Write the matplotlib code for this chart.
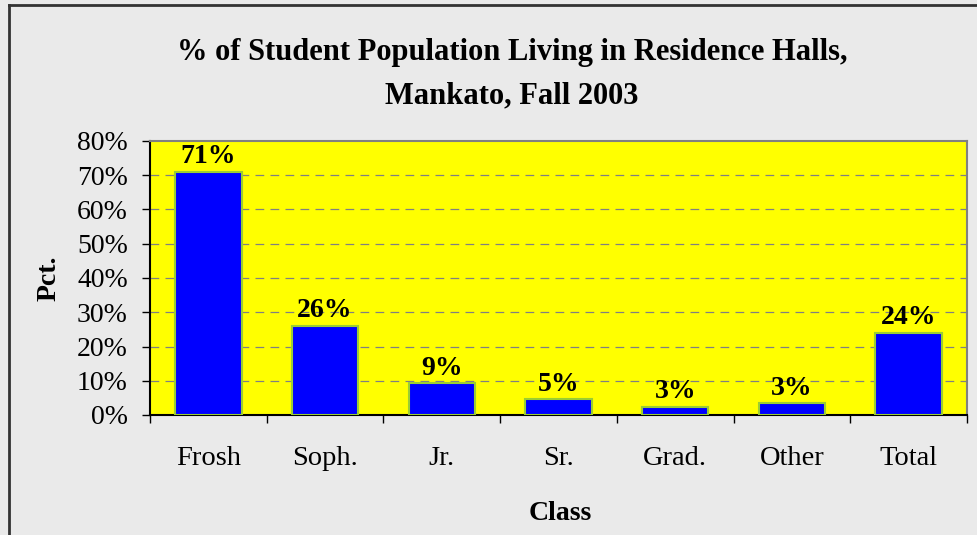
import numpy as np
import matplotlib
matplotlib.use("Agg")
from matplotlib import pyplot as plt
from matplotlib.lines import Line2D

classes = ["Frosh", "Soph.", "Jr.", "Sr.", "Grad.", "Other", "Total"]
pct_values = [71, 26, 9.2, 4.6, 2.3, 3.4, 24]
pct_labels = ["71%", "26%", "9%", "5%", "3%", "3%", "24%"]
y_ticks = [0, 10, 20, 30, 40, 50, 60, 70, 80]

plt.rcParams["font.family"] = ["Liberation Serif", "DejaVu Serif"]

W, H = 977, 535
fig = plt.figure(figsize=(W / 100, H / 100), dpi=100, facecolor="#eaeaea")
ax = fig.add_axes([150 / W, 1 - 415 / H, (967 - 150) / W, (415 - 141) / H])
ax.set_facecolor("#ffff00")

# outer frame (only top and left visible in the original)
fig.add_artist(Line2D([9 / W, 9 / W], [0, 1 - 5 / H], transform=fig.transFigure,
                      color="#333333", lw=2))
fig.add_artist(Line2D([9 / W, 1], [1 - 5 / H, 1 - 5 / H], transform=fig.transFigure,
                      color="#333333", lw=2))

x = np.arange(len(classes))
ax.bar(x, pct_values, width=0.57, color="#0000ff", edgecolor="#9acd32",
       linewidth=1.5, zorder=3)
for xi, v, lab in zip(x, pct_values, pct_labels):
    ax.text(xi, v + 0.8, lab, ha="center", va="bottom", fontsize=20,
            fontweight="bold", zorder=4)

ax.set_xlim(-0.5, len(classes) - 0.5)
ax.set_ylim(0, 80)
ax.set_yticks(y_ticks)
ax.set_yticklabels([f"{t}%" for t in y_ticks], fontsize=20)
for t in y_ticks[1:-1]:
    ax.axhline(t, color="#808080", lw=0.9, ls=(0, (7, 5)), zorder=1)

ax.set_xticks(x)
ax.set_xticklabels(classes, fontsize=20.5)
ax.set_xticks(np.arange(-0.5, len(classes)), minor=True)
ax.tick_params(axis="x", which="major", length=0, pad=22)
ax.tick_params(axis="x", which="minor", length=6, width=1, color="black", direction="out")
ax.tick_params(axis="y", length=6, width=1, direction="out", pad=10)

ax.spines["left"].set_color("black")
ax.spines["bottom"].set_color("black")
ax.spines["left"].set_linewidth(1.5)
ax.spines["bottom"].set_linewidth(1.5)
ax.spines["top"].set_color("#808080")
ax.spines["right"].set_color("#808080")
ax.spines["top"].set_linewidth(1.5)
ax.spines["right"].set_linewidth(1.5)

ax.set_ylabel("Pct.", fontsize=20, fontweight="bold")
ax.yaxis.set_label_coords(-(150 - 49) / 817, 0.5)
ax.set_xlabel("Class", fontsize=20, fontweight="bold")
ax.xaxis.set_label_coords(0.5 + 1.5 / 817, -(513 - 415) / 274)
ax.xaxis.label.set_va("center")
ax.yaxis.label.set_va("center")

fig.text(512 / W, 1 - 52 / H, "% of Student Population Living in Residence Halls,",
         ha="center", va="center", fontsize=22, fontweight="bold")
fig.text(512 / W, 1 - 96 / H, "Mankato, Fall 2003",
         ha="center", va="center", fontsize=22, fontweight="bold")

fig.savefig("out.png", dpi=100, facecolor=fig.get_facecolor())
